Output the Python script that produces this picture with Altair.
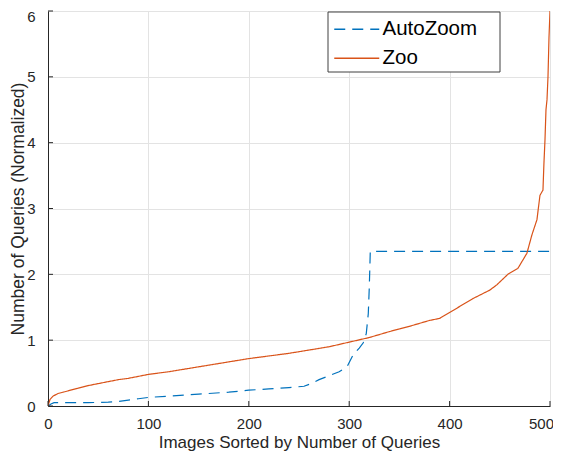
import altair as alt
import pandas as pd

# Data
series_names = ["AutoZoom", "Zoo"]

zoo_x = [0, 2, 5, 10, 15, 20, 30, 40, 50, 60, 70, 80, 90, 100, 120, 140, 160, 180,
         200, 220, 240, 260, 280, 300, 320, 340, 350, 360, 380, 390, 400, 423, 440,
         447, 458, 468, 477, 482, 487, 490, 493, 494, 495, 496, 497, 498, 499, 500]
zoo_y = [0.0, 0.1, 0.15, 0.19, 0.21, 0.23, 0.27, 0.31, 0.34, 0.37, 0.40, 0.42, 0.45,
         0.48, 0.52, 0.57, 0.62, 0.67, 0.72, 0.76, 0.80, 0.85, 0.90, 0.97, 1.04,
         1.13, 1.17, 1.21, 1.30, 1.33, 1.42, 1.63, 1.76, 1.84, 2.0, 2.09, 2.32, 2.6,
         2.83, 3.2, 3.28, 3.7, 4.04, 4.5, 4.65, 5.0, 5.6, 6.0]

auto_x = [0, 3, 6, 20, 40, 60, 70, 80, 90, 100, 120, 150, 180, 200, 220, 240, 255,
          262, 270, 280, 290, 298, 304, 310, 314, 317, 319, 320, 321, 500]
auto_y = [0.0, 0.03, 0.05, 0.05, 0.05, 0.06, 0.07, 0.09, 0.11, 0.13, 0.15, 0.18,
          0.21, 0.24, 0.26, 0.28, 0.30, 0.34, 0.40, 0.46, 0.52, 0.60, 0.78, 0.88,
          0.96, 1.1, 1.4, 1.8, 2.35, 2.35]

x_ticks = [0, 100, 200, 300, 400, 500]
y_ticks = [0, 1, 2, 3, 4, 5, 6]

colors = ["#0072BD", "#D95319"]
dashes = [[11, 7], [1, 0]]

df = pd.concat([
    pd.DataFrame({"series": "AutoZoom", "x": auto_x, "y": auto_y}),
    pd.DataFrame({"series": "Zoo", "x": zoo_x, "y": zoo_y}),
], ignore_index=True)

W, H = 502, 395
FONT = "Liberation Sans"
DARK = "#262626"

legend = alt.Legend(
    title=None, orient="none", legendX=280, legendY=3,
    padding=5,
    labelFontSize=20.5, labelFont=FONT, labelColor="black",
    symbolType="M-1,0H4", symbolSize=324, symbolStrokeWidth=1.3,
    rowPadding=8, labelOffset=29,
)

xscale = alt.Scale(domain=[0, 500], nice=False)
yscale = alt.Scale(domain=[0, 6], nice=False)

lines = alt.Chart(df).mark_line(strokeWidth=1.2, clip=True).encode(
    x=alt.X("x:Q", scale=xscale,
            axis=alt.Axis(title="Images Sorted by Number of Queries", values=x_ticks,
                          format="d", labelFlush=False, labelPadding=10, titlePadding=3,
                          labelOffset={"condition": {"test": "datum.value == 500", "value": -9},
                                       "value": 0})),
    y=alt.Y("y:Q", scale=yscale,
            axis=alt.Axis(title="Number of Queries (Normalized)", values=y_ticks,
                          format="d", labelFlush=False, labelPadding=13,
                          labelOffset={"condition": {"test": "datum.value == 6", "value": 5},
                                       "value": 0},
                          titleX=-21, titleFontSize=17.5)),
    color=alt.Color("series:N", scale=alt.Scale(domain=series_names, range=colors),
                    legend=legend),
    strokeDash=alt.StrokeDash("series:N", scale=alt.Scale(domain=series_names, range=dashes),
                              legend=legend),
    order="x:Q",
)

# legend frame (decoration)
frame = alt.Chart(pd.DataFrame({"k": [0]})).mark_rect(
    fill="white", stroke="#404040", strokeWidth=1
).encode(x=alt.value(280), x2=alt.value(452), y=alt.value(1), y2=alt.value(61))

xt = alt.Chart(pd.DataFrame({"t": x_ticks})).mark_rule(color=DARK, strokeWidth=1).encode(
    x=alt.X("t:Q", scale=xscale), y=alt.value(H), y2=alt.value(H - 5))
yt = alt.Chart(pd.DataFrame({"t": y_ticks})).mark_rule(color=DARK, strokeWidth=1).encode(
    y=alt.Y("t:Q", scale=yscale), x=alt.value(0), x2=alt.value(5))

chart = alt.layer(lines, xt, yt, frame).properties(
    width=W, height=H,
    autosize=alt.AutoSizeParams(type="none"),
    padding={"left": 40, "top": 3, "right": 3, "bottom": 46},
).configure_view(stroke=None).configure_axis(
    domainColor=DARK, domainWidth=1, ticks=False,
    gridColor="#E3E3E3", gridWidth=1,
    labelFont=FONT, labelFontSize=15, labelColor=DARK,
    titleFont=FONT, titleFontSize=17, titleFontWeight="normal", titleColor=DARK,
)

chart.save("out.html", embed_options={"renderer": "svg", "actions": False})
